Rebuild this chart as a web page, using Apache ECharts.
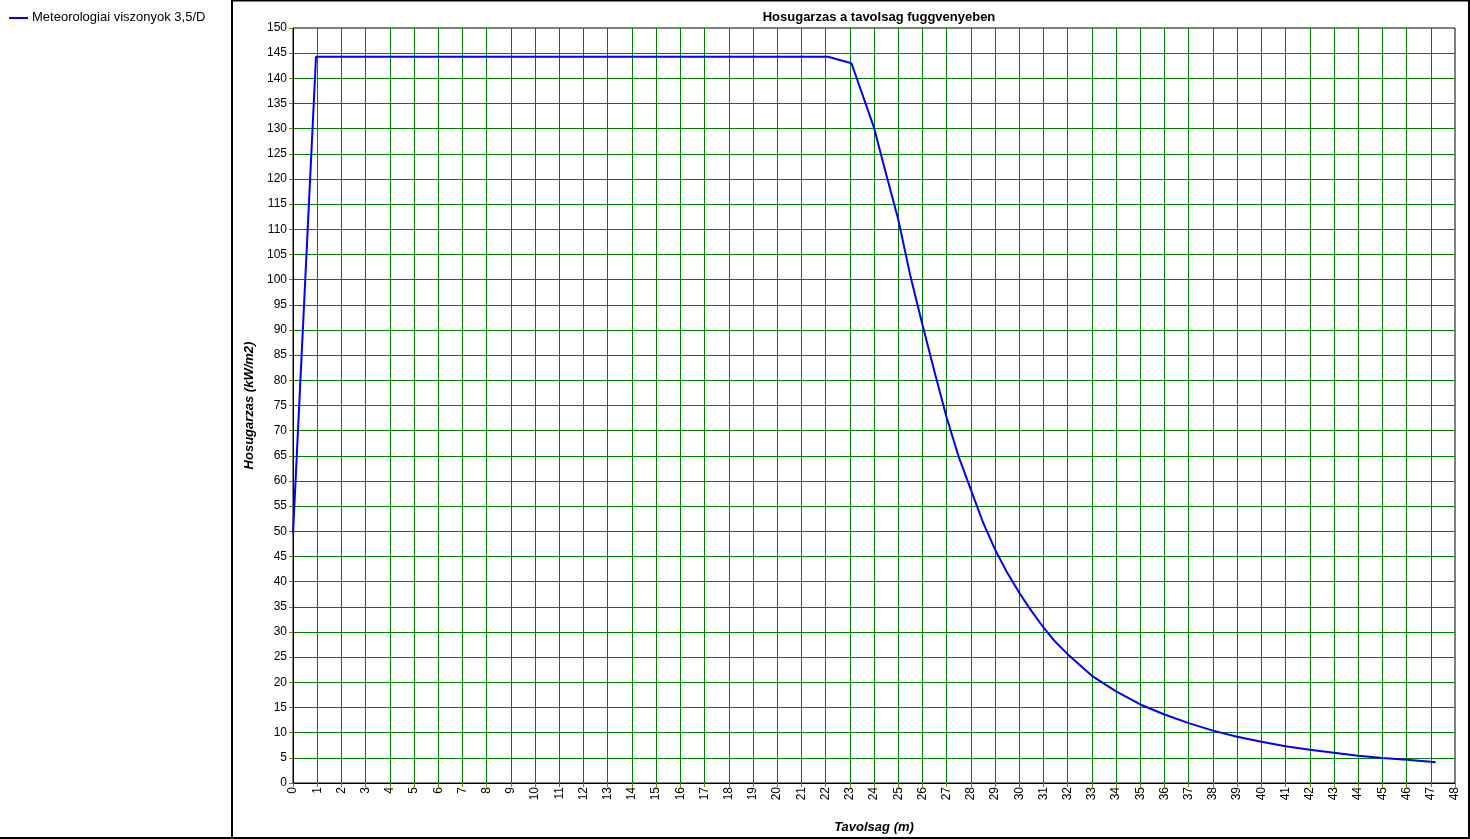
<!DOCTYPE html>
<html>
<head>
<meta charset="utf-8">
<script src="https://cdn.jsdelivr.net/npm/echarts@6/dist/echarts.min.js"></script>
<style>
html,body{margin:0;padding:0;background:#fff;}
#c{width:1470px;height:839px;}
</style>
</head>
<body>
<div id="c"></div>
<script>
const title = "Hosugarzas a tavolsag fuggvenyeben";
const seriesName = "Meteorologiai viszonyok 3,5/D";
const xName = "Tavolsag (m)";
const yName = "Hosugarzas (kW/m2)";
const distance = [0, 0.95, 22.1, 23.07, 24, 24.5, 25, 25.5, 26, 26.5, 27, 27.5, 28, 28.5, 29, 29.5, 30, 30.5, 31, 31.5, 32, 33, 34, 35, 36, 37, 38, 39, 40, 41, 42, 43, 44, 45, 46, 47, 47.2];
const radiation = [49.5, 144.3, 144.3, 143.0, 130.2, 121, 112, 100.8, 91.1, 81.7, 72.6, 64.8, 58.3, 51.8, 46.4, 41.8, 37.8, 34.2, 30.9, 28.0, 25.6, 21.3, 18.2, 15.6, 13.6, 11.9, 10.4, 9.2, 8.2, 7.3, 6.6, 6.0, 5.4, 4.95, 4.6, 4.2, 4.1];

const font = "Arial, 'Liberation Sans', sans-serif";
const chart = echarts.init(document.getElementById('c'), null, {renderer: 'canvas'});
const data = distance.map((d, i) => [d, radiation[i]]);

chart.setOption({
  animation: false,
  backgroundColor: '#fff',
  title: {
    text: title, left: 874, top: 6, textAlign: 'center',
    textStyle: {fontFamily: font, fontSize: 13, fontWeight: 'bold', color: '#000'}
  },
  legend: {show: false},
  grid: {left: 293, top: 28, right: 15, bottom: 53, show: true, borderColor: '#000', borderWidth: 1, backgroundColor: 'transparent'},
  xAxis: [{
    type: 'value', min: 0, max: 48, interval: 1,
    name: xName, nameLocation: 'middle', nameGap: 38,
    nameTextStyle: {fontFamily: font, fontSize: 13, fontWeight: 'bold', fontStyle: 'italic', color: '#000'},
    axisLine: {show: true, lineStyle: {color: '#000', width: 1}},
    axisTick: {show: true, length: 4, lineStyle: {color: '#808000'}},
    axisLabel: {rotate: 90, fontFamily: font, fontSize: 12, color: '#000', margin: 4, showMinLabel: true, showMaxLabel: true},
    splitLine: {show: true, showMinLine: false, showMaxLine: false, lineStyle: {color: '#008000', width: 1}}
  }],
  yAxis: [{
    type: 'value', min: 0, max: 150, interval: 5,
    name: yName, nameLocation: 'middle', nameGap: 37, nameRotate: 90,
    nameTextStyle: {fontFamily: font, fontSize: 13, fontWeight: 'bold', fontStyle: 'italic', color: '#000'},
    axisLine: {show: true, lineStyle: {color: '#000', width: 1}},
    axisTick: {show: true, length: 4, lineStyle: {color: '#808000'}},
    axisLabel: {fontFamily: font, fontSize: 12, color: '#000', margin: 6},
    splitLine: {show: true, showMinLine: false, showMaxLine: false, lineStyle: {color: '#008000', width: 1}}
  }],
  series: [{
    name: seriesName, type: 'line', data: data, showSymbol: false, smooth: false,
    lineStyle: {color: '#0000ff', width: 2}, itemStyle: {color: '#0000ff'}, z: 5
  }],
  graphic: [
    {type: 'rect', shape: {x: 232, y: 0.5, width: 1237, height: 837.5}, style: {fill: 'none', stroke: '#000', lineWidth: 2}, silent: true},
    {type: 'line', shape: {x1: 0, y1: 838, x2: 232, y2: 838}, style: {stroke: '#000', lineWidth: 2}, silent: true},
    {type: 'line', shape: {x1: 9, y1: 18, x2: 28, y2: 18}, style: {stroke: '#0000ff', lineWidth: 2}, silent: true},
    {type: 'text', x: 32, y: 11, style: {text: seriesName, fontFamily: font, fontSize: 13, fill: '#000'}, silent: true}
  ]
});
</script>
</body>
</html>
